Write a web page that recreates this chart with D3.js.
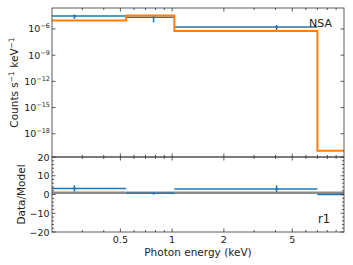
<!DOCTYPE html>
<html>
<head>
<meta charset="utf-8">
<script src="https://cdn.jsdelivr.net/npm/d3@7.9.0/dist/d3.min.js"></script>
<style>
  html, body { margin: 0; padding: 0; background: #fff; }
  svg text { font-family: "DejaVu Sans", sans-serif; fill: #222; }
</style>
</head>
<body>
<svg width="353" height="265"></svg>
<script>
// bin edges (keV) and data
const edges = [0.2, 0.54, 1.03, 7.0, 10];
const energy = [0.27, 0.78, 4.05, 8.4];
const counts = [2.95e-5, 2.2e-5, 1.7e-6, 0];
const countsErrLo = [1.5e-5, 1.65e-5, 0.95e-6, 0];
const countsErrHi = [1.5e-5, 0.45e-5, 1.2e-6, 0];
const model = [9.1e-6, 3.4e-5, 5.9e-7, 1.15e-20];
const xTicks = [0.5, 1, 2, 5];
const xMinor = [0.3, 0.4, 0.6, 0.7, 0.8, 0.9, 3, 4, 6, 7, 8, 9];
const yExp = [-6, -9, -12, -15, -18];
const ratioTicks = [-20, -10, 0, 10, 20];

const blue = '#1f77b4', orange = '#ff7f0e', spine = '#333';
const L = 52, R = 344, T = 8, M = 157, B = 232;

const svg = d3.select('svg');
const x = d3.scaleLog().domain([0.2, 10]).range([L, R]);
const y = d3.scaleLog().domain([Math.pow(10, -20.66), Math.pow(10, -3.6)]).range([M, T]);
const yr = d3.scaleLinear().domain([-20, 20]).range([B, M]);

svg.append('clipPath').attr('id', 'c1').append('rect')
  .attr('x', L).attr('y', T).attr('width', R - L).attr('height', M - T);
svg.append('clipPath').attr('id', 'c2').append('rect')
  .attr('x', L).attr('y', M).attr('width', R - L).attr('height', B - M);

// upper panel: data
let up = svg.append('g').attr('clip-path', 'url(#c1)');
counts.forEach((c, i) => {
  if (c <= 0) return;
  up.append('line').attr('x1', x(edges[i])).attr('x2', x(edges[i + 1]))
    .attr('y1', y(c)).attr('y2', y(c))
    .attr('stroke', blue).attr('stroke-width', 1.5);
  up.append('line').attr('x1', x(energy[i])).attr('x2', x(energy[i]))
    .attr('y1', y(c + countsErrHi[i])).attr('y2', y(c - countsErrLo[i]))
    .attr('stroke', blue).attr('stroke-width', 1.5);
  up.append('circle').attr('cx', x(energy[i])).attr('cy', y(c)).attr('r', 1.3).attr('fill', blue);
});

// model step line
let stepPts = [];
model.forEach((m, i) => { stepPts.push([edges[i], m]); stepPts.push([edges[i + 1], m]); });
up.append('path')
  .attr('d', d3.line().x(d => x(d[0])).y(d => y(d[1]))(stepPts))
  .attr('fill', 'none').attr('stroke', orange).attr('stroke-width', 2);

// lower panel: ratio
let lo = svg.append('g').attr('clip-path', 'url(#c2)');
lo.append('line').attr('x1', L).attr('x2', R).attr('y1', yr(1)).attr('y2', yr(1))
  .attr('stroke', '#8c8c8c').attr('stroke-width', 2.5);
counts.forEach((c, i) => {
  let r = c / model[i];
  lo.append('line').attr('x1', x(edges[i])).attr('x2', x(edges[i + 1]))
    .attr('y1', yr(r)).attr('y2', yr(r))
    .attr('stroke', blue).attr('stroke-width', 1.5);
  if (c <= 0) return;
  lo.append('line').attr('x1', x(energy[i])).attr('x2', x(energy[i]))
    .attr('y1', yr(r + countsErrHi[i] / model[i])).attr('y2', yr(r - countsErrLo[i] / model[i]))
    .attr('stroke', blue).attr('stroke-width', 1.5);
  lo.append('circle').attr('cx', x(energy[i])).attr('cy', yr(r)).attr('r', 1.3).attr('fill', blue);
});

// ticks (inward, all sides)
let tk = svg.append('g').attr('stroke', spine).attr('stroke-width', 0.8);
function xt(v, len) {
  [[T, 1], [M, -1], [M, 1], [B, -1]].forEach(([yy, d]) => {
    tk.append('line').attr('x1', x(v)).attr('x2', x(v)).attr('y1', yy).attr('y2', yy + d * len);
  });
}
xTicks.forEach(v => xt(v, 3.5));
xMinor.forEach(v => xt(v, 2));
yExp.forEach(e => {
  let yy = y(Math.pow(10, e));
  tk.append('line').attr('x1', L).attr('x2', L + 3.5).attr('y1', yy).attr('y2', yy);
  tk.append('line').attr('x1', R).attr('x2', R - 3.5).attr('y1', yy).attr('y2', yy);
});
d3.range(-20, 21, 2).forEach(v => {
  let len = v % 10 === 0 ? 3.5 : 2;
  tk.append('line').attr('x1', L).attr('x2', L + len).attr('y1', yr(v)).attr('y2', yr(v));
  tk.append('line').attr('x1', R).attr('x2', R - len).attr('y1', yr(v)).attr('y2', yr(v));
});

// frames
svg.append('rect').attr('x', L).attr('y', T).attr('width', R - L).attr('height', M - T)
  .attr('fill', 'none').attr('stroke', spine).attr('stroke-width', 0.8);
svg.append('rect').attr('x', L).attr('y', M).attr('width', R - L).attr('height', B - M)
  .attr('fill', 'none').attr('stroke', spine).attr('stroke-width', 0.8);

// tick labels
xTicks.forEach(v => {
  svg.append('text').attr('x', x(v)).attr('y', 242.5).attr('text-anchor', 'middle')
    .attr('font-size', 9.5).text(d3.format('~g')(v));
});
yExp.forEach(e => {
  let t = svg.append('text').attr('x', 50).attr('y', y(Math.pow(10, e)) + 3.5)
    .attr('text-anchor', 'end').attr('font-size', 9.5);
  t.append('tspan').text('10');
  t.append('tspan').attr('font-size', 6.5).attr('dy', -4).text('\u2212' + (-e));
});
ratioTicks.forEach(v => {
  svg.append('text').attr('x', 49.5).attr('y', yr(v) + 3.5).attr('text-anchor', 'end')
    .attr('font-size', 9.5).text(v < 0 ? '\u2212' + (-v) : v);
});

// axis labels
let yl = svg.append('text').attr('transform', `translate(18,${(T + M) / 2}) rotate(-90)`)
  .attr('text-anchor', 'middle').attr('font-size', 10.5);
yl.append('tspan').text('Counts s');
yl.append('tspan').attr('font-size', 7.5).attr('dy', -4).text('\u22121');
yl.append('tspan').attr('dy', 4).text(' keV');
yl.append('tspan').attr('font-size', 7.5).attr('dy', -4).text('\u22121');

svg.append('text').attr('transform', `translate(25,${(M + B) / 2}) rotate(-90)`)
  .attr('text-anchor', 'middle').attr('font-size', 10.5).text('Data/Model');
svg.append('text').attr('x', (L + R) / 2).attr('y', 256).attr('text-anchor', 'middle')
  .attr('font-size', 10.5).text('Photon energy (keV)');

svg.append('text').attr('x', 309).attr('y', 27).attr('font-size', 11).text('NSA');
svg.append('text').attr('x', 318).attr('y', 223).attr('font-size', 11.5).text('r1');
</script>
</body>
</html>
